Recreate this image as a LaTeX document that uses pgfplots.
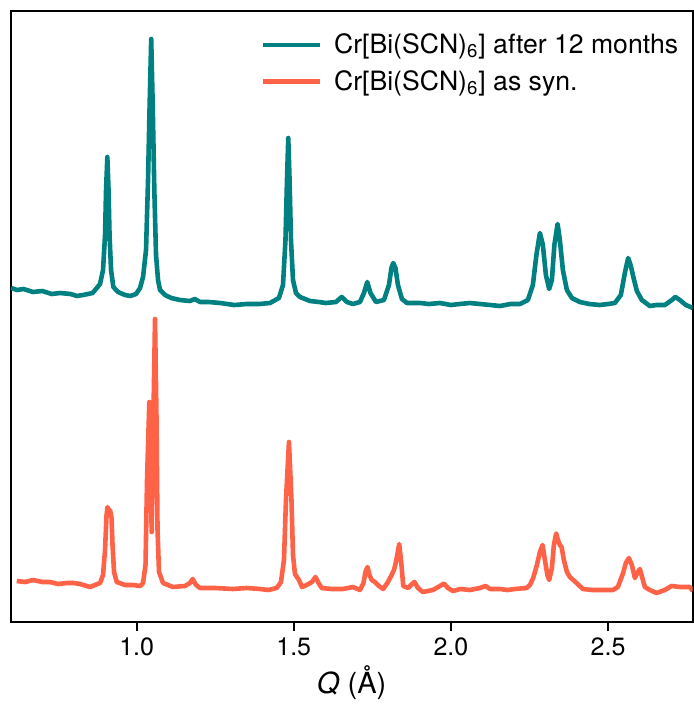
\documentclass[border=0pt]{standalone}
\usepackage{pgfplots}
\pgfplotsset{compat=1.18}
\usepackage{pgfplotstable}
\usepackage{fontspec}
\setmainfont{TeX Gyre Heros}
\definecolor{cteal}{HTML}{008080}
\definecolor{ctomato}{HTML}{FF6347}

\pgfplotstableread{
Q I
0.6005 334
0.6196 332
0.6400 333
0.6705 330
0.7000 331
0.7300 328
0.7564 329
0.7900 328
0.8100 326
0.8295 327
0.8600 329
0.8836 338
0.8931 352
0.8995 387
0.9027 432
0.9068 465
0.9106 432
0.9138 387
0.9186 352
0.9259 335
0.9408 330
0.9631 327
0.9790 326
0.9981 328
1.0108 334
1.0204 345
1.0299 372
1.0363 442
1.0410 512
1.0464 583
1.0515 512
1.0563 432
1.0617 367
1.0681 342
1.0744 332
1.0903 327
1.1100 324
1.1380 322
1.1700 321
1.1850 323
1.2017 320
1.2300 320
1.2653 319
1.3100 317
1.3511 318
1.3900 318
1.4243 319
1.4529 324
1.4657 337
1.4736 382
1.4784 442
1.4825 484
1.4866 442
1.4911 382
1.4975 342
1.5070 329
1.5197 325
1.5515 321
1.5800 320
1.6024 319
1.6342 320
1.6524 325
1.6692 320
1.6883 318
1.7106 320
1.7233 329
1.7338 340
1.7440 329
1.7615 320
1.7869 322
1.8028 337
1.8108 354
1.8165 359
1.8235 354
1.8314 337
1.8442 323
1.8601 319
1.9014 319
1.9300 318
1.9650 319
2.0000 317
2.0286 318
2.0600 319
2.0923 318
2.1250 317
2.1559 316
2.1900 318
2.2195 318
2.2449 322
2.2608 337
2.2720 367
2.2831 389
2.2926 377
2.3022 347
2.3127 333
2.3213 342
2.3292 377
2.3394 398
2.3467 382
2.3562 352
2.3690 332
2.3849 324
2.4103 320
2.4400 318
2.4739 317
2.5000 318
2.5216 319
2.5407 327
2.5534 349
2.5640 364
2.5725 356
2.5805 345
2.5916 331
2.6075 322
2.6330 316
2.6550 317
2.6807 317
2.7030 322
2.7141 325
2.7284 322
2.7475 317
2.7697 314
}\aged

\pgfplotstableread{
Q I
0.6186 41
0.6450 40
0.6705 42
0.7000 40
0.7246 40
0.7500 38
0.7777 39
0.8000 39
0.8200 38
0.8518 35
0.8836 39
0.8931 47
0.8995 72
0.9043 107
0.9074 115
0.9122 110
0.9154 112
0.9202 104
0.9233 77
0.9281 50
0.9367 40
0.9631 37
0.9885 37
1.0108 36
1.0204 39
1.0283 57
1.0331 142
1.0404 220
1.0442 152
1.0480 90
1.0522 182
1.0585 303
1.0633 202
1.0665 92
1.0712 50
1.0840 39
1.1158 35
1.1539 36
1.1698 39
1.1784 43
1.1889 37
1.2017 34
1.2500 34
1.3066 33
1.3500 34
1.3925 33
1.4200 32
1.4456 34
1.4593 40
1.4688 62
1.4752 122
1.4847 180
1.4927 122
1.4975 67
1.5038 48
1.5102 45
1.5165 42
1.5261 35
1.5410 37
1.5579 40
1.5690 45
1.5770 40
1.5887 34
1.6200 33
1.6565 33
1.6883 35
1.7106 32
1.7217 39
1.7281 50
1.7344 55
1.7408 47
1.7478 42
1.7583 40
1.7710 36
1.7847 33
1.7996 40
1.8114 47
1.8187 52
1.8251 60
1.8356 78
1.8426 57
1.8483 36
1.8642 34
1.8728 37
1.8839 40
1.8951 34
1.9110 30
1.9428 32
1.9650 36
1.9778 38.5
1.9905 34
2.0064 31
2.0300 33
2.0604 32
2.0923 34
2.1104 36
2.1241 33
2.1559 33
2.1800 32
2.2036 33
2.2408 34
2.2513 37
2.2618 44
2.2736 57
2.2831 70
2.2917 77
2.2990 62
2.3069 47
2.3127 42
2.3213 54
2.3276 77
2.3349 88.5
2.3403 82
2.3467 77
2.3521 75
2.3594 62
2.3690 50
2.3785 45
2.3998 39
2.4199 33
2.4500 32
2.4739 32
2.5153 32
2.5312 35
2.5480 49
2.5566 59
2.5662 64
2.5757 57
2.5853 44
2.5932 49
2.6012 53
2.6091 44
2.6171 35
2.6330 32
2.6543 29
2.6807 32
2.7020 36
2.7284 35
2.7602 35
2.7697 31
}\fresh

\begin{document}
\begin{tikzpicture}
\useasboundingbox (-5.3pt,-45.5pt) rectangle (341.2pt,311pt);
\begin{axis}[
  name=ax,
  scale only axis,
  width=341pt, height=305.5pt,
  xmin=0.599, xmax=2.769,
  ymin=0, ymax=611,
  axis line style={line width=0.9pt},
  xtick={1.0,1.5,2.0,2.5},
  xticklabels={1.0,1.5,2.0,2.5},
  ytick=\empty,
  xtick pos=bottom,
  tick align=outside,
  major tick length=4.5pt,
  every tick/.style={line width=0.9pt, black},
  ticklabel style={font=\fontsize{12.5}{14}\selectfont},
  /pgf/number format/assume math mode=true,
  xlabel={\textit{Q} (Å)},
  xlabel style={font=\fontsize{14.5}{16}\selectfont, yshift=2pt},
  legend cell align=left,
  legend style={draw=none, fill=none, at={(1,1)}, anchor=north east,
    xshift=-2pt, yshift=-7pt,
    font=\fontsize{13.3}{15}\selectfont, row sep=3pt,
    /tikz/every odd column/.append style={column sep=4pt}},
  legend image code/.code={\draw[#1, line width=2.3pt] (0pt,0pt) -- (28.5pt,0pt);},
]
\addplot[cteal, line width=2.3pt, line join=round] table[x=Q, y=I] {\aged};
\addlegendentry{Cr[Bi(SCN)\textsubscript{6}] after 12 months}
\addplot[ctomato, line width=2.3pt, line join=round] table[x=Q, y=I] {\fresh};
\addlegendentry{Cr[Bi(SCN)\textsubscript{6}] as syn.}
\end{axis}
\end{tikzpicture}
\end{document}
